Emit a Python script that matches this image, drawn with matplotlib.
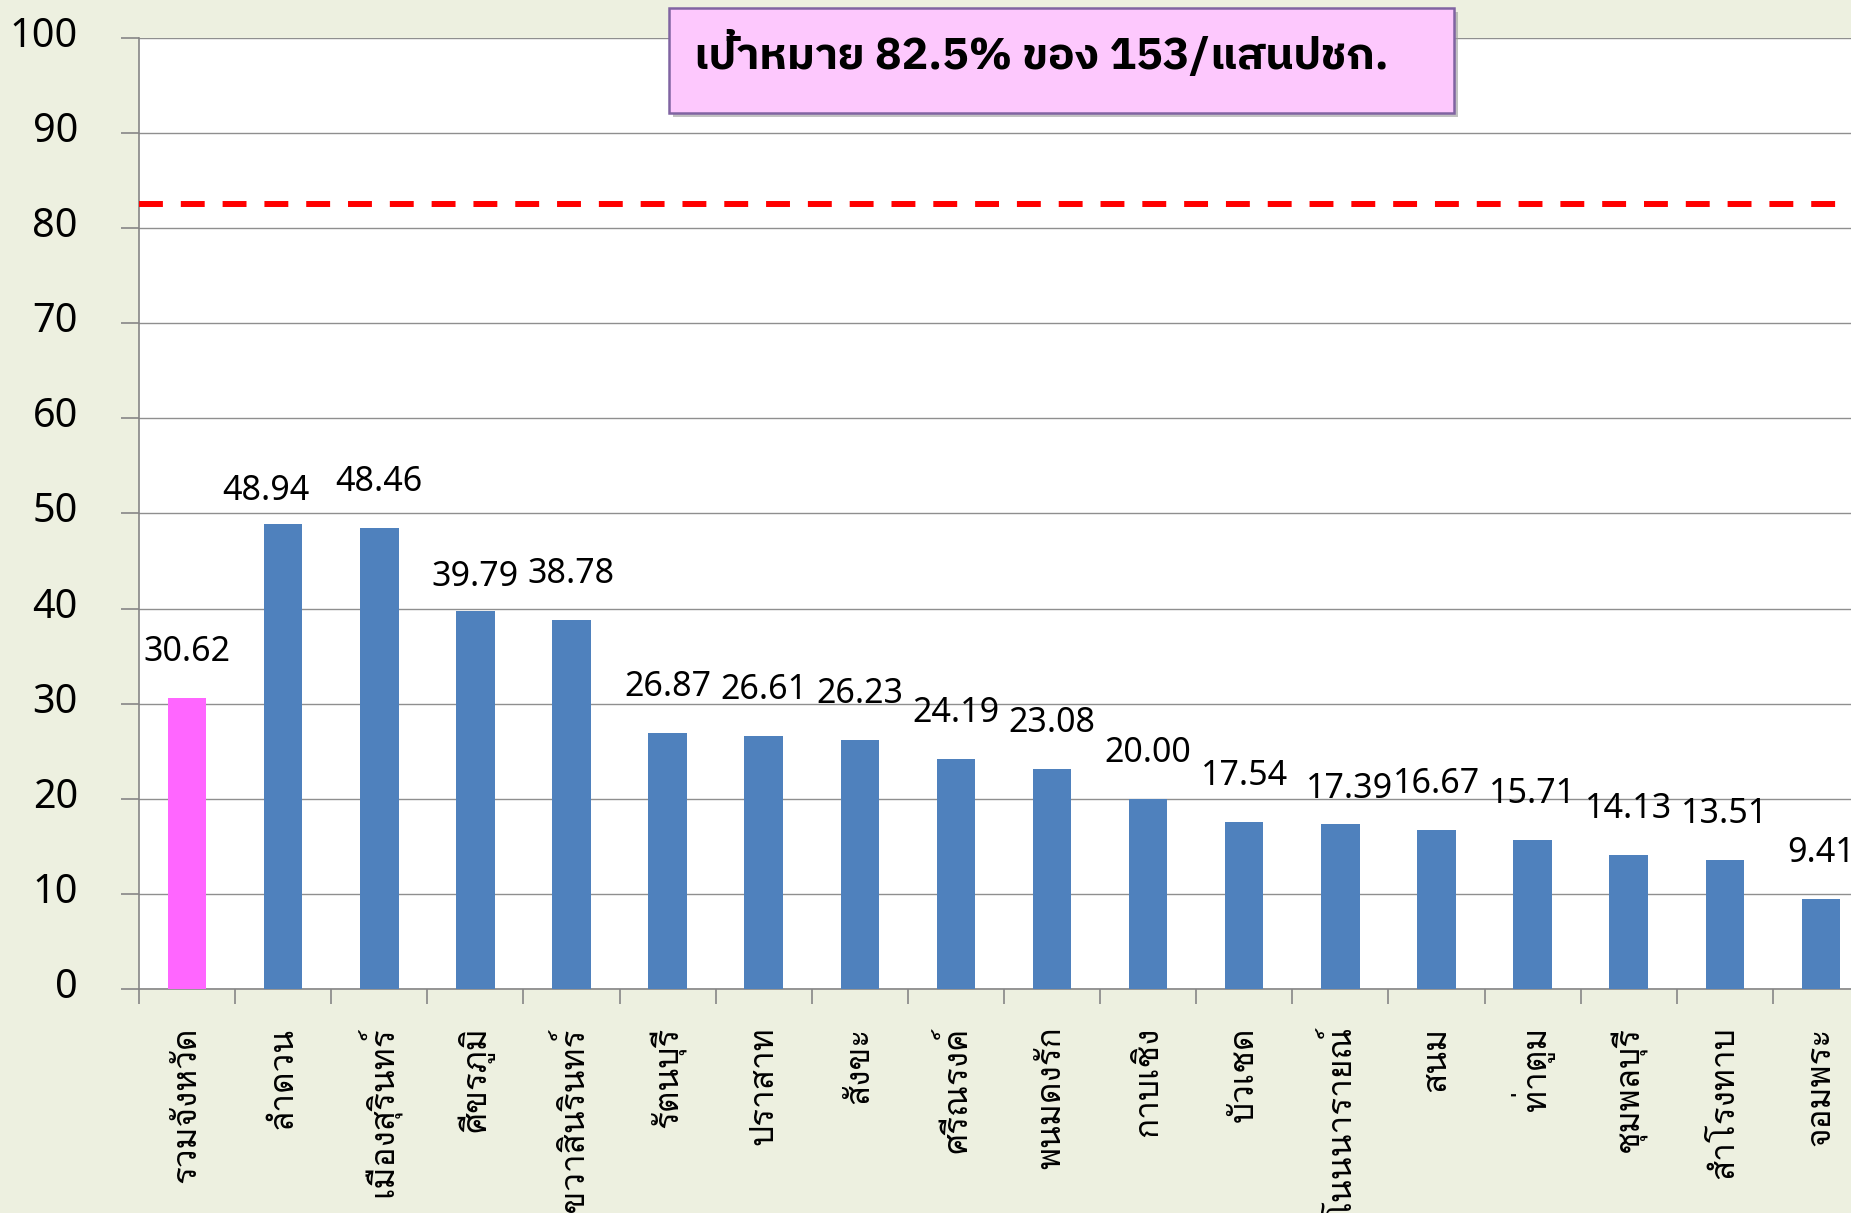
import matplotlib
matplotlib.use("Agg")
import matplotlib.pyplot as plt
from matplotlib.patches import Rectangle
from matplotlib.transforms import ScaledTranslation
import numpy as np

districts = ["รวมจังหวัด", "ลำดวน", "เมืองสุรินทร์", "ศีขรภูมิ", "เขวาสินรินทร์",
             "รัตนบุรี", "ปราสาท", "สังขะ", "ศรีณรงค์", "พนมดงรัก", "กาบเชิง",
             "บัวเชด", "โนนนารายณ์", "สนม", "ท่าตูม", "ชุมพลบุรี", "สำโรงทาบ", "จอมพระ"]
values = [30.62, 48.94, 48.46, 39.79, 38.78, 26.87, 26.61, 26.23, 24.19, 23.08,
          20.00, 17.54, 17.39, 16.67, 15.71, 14.13, 13.51, 9.41]
target = 82.5
title_text = "เป้าหมาย 82.5% ของ 153/แสนปชก."

# label placement tweaks (pixels): (dx, gap above bar)
label_dx = {1: -17, 12: 9}
label_gap = {1: 24, 3: 25, 12: 26}

thai_font = ["Loma", "Noto Sans Thai Looped", "DejaVu Sans"]
num_font = ["Noto Sans", "DejaVu Sans"]
title_font = ["IBM Plex Sans Thai", "Noto Sans Thai", "DejaVu Sans"]

fig = plt.figure(figsize=(18.51, 12.13), dpi=100)
fig.patch.set_facecolor("#EDF0E0")
ax = fig.add_axes([0.0751, 0.1847, 1.0097 - 0.0751, 0.9687 - 0.1847])
ax.set_facecolor("white")
x = np.arange(len(values))
colors = ["#FF66FF"] + ["#4F81BD"] * (len(values) - 1)
ax.bar(x, values, width=0.40, color=colors, zorder=3)
ax.set_xlim(-0.5, len(values) - 0.5)
ax.set_ylim(0, 100)
ax.grid(axis="y", color="#8F8F8F", linewidth=1.0, zorder=0)
for s in ["top", "right"]:
    ax.spines[s].set_visible(False)
for s in ["left", "bottom"]:
    ax.spines[s].set_color("#868686")
    ax.spines[s].set_linewidth(1.2)
ax.axhline(target, color="#FF0000", linewidth=4.3, dashes=(4.0, 3.0), zorder=4)

ax.tick_params(axis="y", length=13, width=1.2, color="#868686", pad=31)
ax.set_yticks(np.arange(0, 101, 10))
ax.set_yticklabels([str(t) for t in range(0, 101, 10)], fontsize=28.5, family=num_font)
for lab in ax.get_yticklabels():
    lab.set_transform(lab.get_transform() + ScaledTranslation(0, 6 / 100, fig.dpi_scale_trans))
ax.set_xticks(np.arange(len(values) + 1) - 0.5)
ax.set_xticklabels([])
ax.tick_params(axis="x", which="major", length=10.5, width=1.2, color="#868686")
ax.set_xticks(x, minor=True)
ax.set_xticklabels(districts, minor=True, rotation=90, fontsize=24, family=thai_font)
ax.tick_params(axis="x", which="minor", length=0, pad=27)

for i, v in enumerate(values):
    dx = label_dx.get(i, 0) * 0.72
    gap = label_gap.get(i, 37) * 0.72
    ax.annotate(f"{v:.2f}", (i, v), xytext=(dx, gap), textcoords="offset points",
                ha="center", va="baseline", fontsize=24.5, color="black",
                family=num_font, zorder=5)

# title box with shadow
bx, by, bw, bh = 669 / 1851, 1 - 113 / 1213, 785 / 1851, 105 / 1213
fig.patches.append(Rectangle((bx + 4 / 1851, by - 4 / 1213), bw, bh, transform=fig.transFigure,
                             facecolor="#9A9A9A", edgecolor="none", alpha=0.6, zorder=8))
fig.patches.append(Rectangle((bx, by), bw, bh, transform=fig.transFigure,
                             facecolor="#FDC8FD", edgecolor="#8064A2", linewidth=1.8, zorder=9))
fig.text(694 / 1851, 1 - 55 / 1213, title_text, ha="left", va="center", fontsize=32,
         fontweight="bold", family=title_font, zorder=10)

fig.savefig("out.png", dpi=100, facecolor=fig.get_facecolor())
